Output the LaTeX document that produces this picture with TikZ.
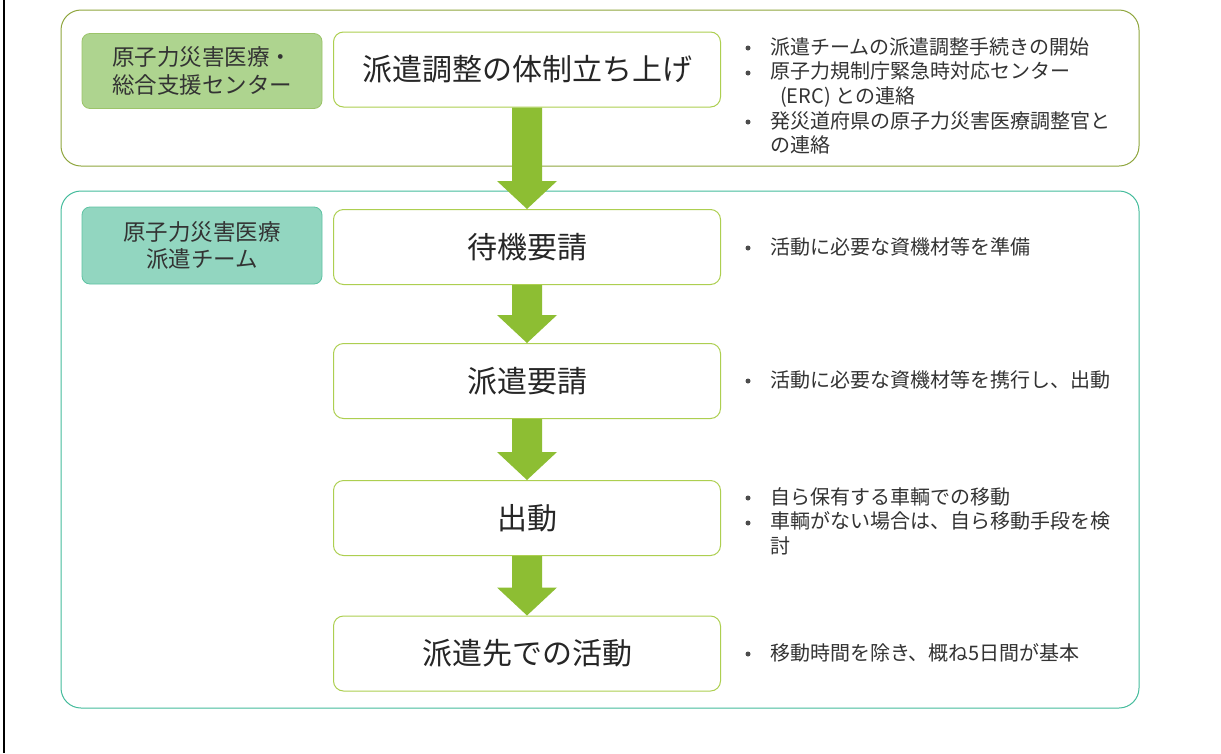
\documentclass[tikz,border=0pt]{standalone}
\usepackage{fontspec}
\setmainfont{Noto Sans CJK JP}
\usetikzlibrary{calc}
\begin{document}
\begin{tikzpicture}[x=1pt,y=-1pt,
  outerA/.style={draw=olivebox,line width=1pt,rounded corners=20pt},
  outerB/.style={draw=tealbox,line width=1pt,rounded corners=20pt},
  lblA/.style={draw=lblAbd,fill=lblAfill,line width=0.8pt,rounded corners=8pt,minimum width=240pt,minimum height=75pt,align=center,font=\fontsize{22.5}{28}\selectfont,text=black!80,inner sep=0pt},
  lblB/.style={draw=lblBbd,fill=lblBfill,line width=0.8pt,rounded corners=8pt,minimum width=240pt,minimum height=77pt,align=center,font=\fontsize{22.5}{27}\selectfont,text=black!80,inner sep=0pt},
  stepbox/.style={draw=boxbd,fill=white,line width=1pt,rounded corners=10pt,minimum width=387pt,minimum height=75pt,font=\fontsize{30}{34}\selectfont,text=black!85,inner sep=0pt},
  note/.style={anchor=north west,align=left,font=\fontsize{20}{24.7}\selectfont,text=black!80,inner sep=0pt},
  dotmark/.style={circle,fill=black!70,inner sep=0pt,minimum size=5pt},
  bigarrow/.style={fill=arrowgreen,draw=none}
]
\definecolor{olivebox}{HTML}{8FA63E}
\definecolor{tealbox}{HTML}{45BC9C}
\definecolor{lblAbd}{HTML}{9CC46A}
\definecolor{lblAfill}{HTML}{AED48F}
\definecolor{lblBbd}{HTML}{5EC3A3}
\definecolor{lblBfill}{HTML}{92D6C0}
\definecolor{boxbd}{HTML}{ADCF50}
\definecolor{arrowgreen}{HTML}{8DBE33}

\useasboundingbox (0,0) rectangle (1221,753);
\fill[white] (0,0) rectangle (1221,753);
\draw[black,line width=2pt] (4,0) -- (4,753);

% outer boxes
\draw[outerA] (61,10) rectangle (1139,166);
\draw[outerB] (61,191) rectangle (1139,708);

% label boxes
\node[lblA] (la) at (202,71) {原子力災害医療・\\総合支援センター};
\node[lblB] (lb) at (202,245.5) {原子力災害医療\\派遣チーム};

% step boxes
\node[stepbox] (s1) at (527,69.5) {派遣調整の体制立ち上げ};
\node[stepbox] (s2) at (527,247) {待機要請};
\node[stepbox] (s3) at (527,381) {派遣要請};
\node[stepbox] (s4) at (527,518) {出動};
\node[stepbox] (s5) at (527,653.5) {派遣先での活動};

% arrows
\foreach \a/\b in {s1/s2,s2/s3,s3/s4,s4/s5}{
  \fill[bigarrow] ($(\a.south)+(-15,0)$) -- ($(\a.south)+(15,0)$)
    -- ($(\b.north)+(15,-28)$) -- ($(\b.north)+(30,-28)$) -- (\b.north)
    -- ($(\b.north)+(-30,-28)$) -- ($(\b.north)+(-15,-28)$) -- cycle;
}

% notes
\node[note] (n1) at (770,37) {派遣チームの派遣調整手続きの開始\\原子力規制庁緊急時対応センター\\\hspace*{10pt}(ERC) との連絡\\発災道府県の原子力災害医療調整官と\\の連絡};
\node[dotmark] (d1a) at (748,48) {};
\node[dotmark] (d1b) at (748,73) {};
\node[dotmark] (d1c) at (748,122) {};

\node[note] (n2) at (770,237) {活動に必要な資機材等を準備};
\node[dotmark] (d2) at (748,248) {};

\node[note] (n3) at (770,370) {活動に必要な資機材等を携行し、出動};
\node[dotmark] (d3) at (748,381) {};

\node[note] (n4) at (770,487) {自ら保有する車輌での移動\\車輌がない場合は、自ら移動手段を検\\討};
\node[dotmark] (d4a) at (748,498) {};
\node[dotmark] (d4b) at (748,523) {};

\node[note] (n5) at (770,643) {移動時間を除き、概ね5日間が基本};
\node[dotmark] (d5) at (748,654) {};
\end{tikzpicture}
\end{document}
